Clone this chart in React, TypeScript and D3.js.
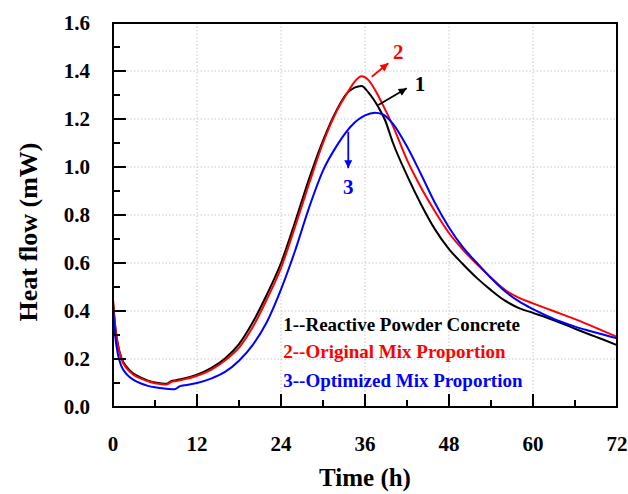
import React from 'react';
import * as d3 from 'd3';

const W = 628, H = 494;
const PL = 113, PT = 23, PR = 617, PB = 407;

const xTicks = [0, 12, 24, 36, 48, 60, 72];
const xMinor = [6, 18, 30, 42, 54, 66];
const yTicks = [0, 0.2, 0.4, 0.6, 0.8, 1.0, 1.2, 1.4, 1.6];
const yMinor = [0.1, 0.3, 0.5, 0.7, 0.9, 1.1, 1.3, 1.5];

// Series 1 - Reactive Powder Concrete (black)
const t1 = [0, 0.3, 0.7, 1.2, 2, 3, 4, 5, 6, 7, 7.7, 8.3, 9, 10, 12, 14, 16, 18, 20, 22, 24, 26, 28, 30, 32, 33.5, 35.5, 36.5, 38, 38.8, 40, 42, 44, 46, 48, 50, 52, 54, 56, 58, 60, 62, 64, 66, 68, 70, 72];
const v1 = [0.44, 0.34, 0.26, 0.205, 0.165, 0.138, 0.122, 0.11, 0.102, 0.098, 0.097, 0.108, 0.112, 0.118, 0.135, 0.162, 0.202, 0.262, 0.355, 0.47, 0.6, 0.77, 0.95, 1.11, 1.24, 1.31, 1.338, 1.31, 1.245, 1.2, 1.1, 0.965, 0.845, 0.74, 0.658, 0.595, 0.537, 0.487, 0.443, 0.412, 0.392, 0.372, 0.35, 0.326, 0.303, 0.281, 0.258];

// Series 2 - Original Mix Proportion (red)
const t2 = [0, 0.3, 0.7, 1.2, 2, 3, 4, 5, 6, 7, 7.7, 8.3, 9, 10, 12, 14, 16, 18, 20, 22, 24, 26, 28, 30, 32, 33.5, 34.5, 35.5, 36.5, 37.5, 38.5, 40, 42, 44, 46, 48, 50, 52, 54, 56, 58, 60, 62, 64, 66, 68, 70, 72];
const v2 = [0.45, 0.34, 0.26, 0.2, 0.16, 0.133, 0.118, 0.107, 0.099, 0.095, 0.094, 0.104, 0.108, 0.114, 0.13, 0.155, 0.194, 0.247, 0.335, 0.45, 0.58, 0.75, 0.93, 1.1, 1.235, 1.31, 1.355, 1.378, 1.362, 1.318, 1.262, 1.17, 1.03, 0.915, 0.815, 0.725, 0.655, 0.595, 0.54, 0.488, 0.455, 0.432, 0.41, 0.388, 0.366, 0.342, 0.317, 0.292];

// Series 3 - Optimized Mix Proportion (blue)
const t3 = [0, 0.3, 0.7, 1.2, 2, 3, 4, 5, 6, 7, 8, 8.8, 9.5, 10.5, 12, 14, 16, 18, 20, 22, 24, 26, 28, 30, 32, 34, 36, 37.4, 38.5, 40, 42, 44, 46, 48, 50, 52, 54, 56, 58, 60, 62, 64, 66, 68, 70, 72];
const v3 = [0.42, 0.3, 0.22, 0.17, 0.135, 0.112, 0.098, 0.088, 0.082, 0.078, 0.075, 0.074, 0.086, 0.092, 0.1, 0.118, 0.146, 0.193, 0.26, 0.355, 0.49, 0.65, 0.83, 0.985, 1.09, 1.17, 1.215, 1.226, 1.22, 1.18, 1.085, 0.97, 0.85, 0.748, 0.665, 0.6, 0.537, 0.482, 0.44, 0.408, 0.38, 0.355, 0.335, 0.318, 0.302, 0.286];

const seriesColors = ['#000000', '#ff0000', '#0000ff'];
const legendLabels = ['1--Reactive Powder Concrete', '2--Original Mix Proportion', '3--Optimized Mix Proportion'];
const legendX = 24.33;
const legendY = [0.318, 0.203, 0.082];

// annotations: arrow start (t,v), arrow end (t,v), label position (t,v)
const annoLabels = ['1', '2', '3'];
const annoFrom = [[37.9, 1.258], [36.96, 1.376], [33.61, 1.147]];
const annoTo = [[41.96, 1.328], [39.33, 1.432], [33.61, 0.995]];
const annoText = [[43.86, 1.349], [40.76, 1.48], [33.61, 0.918]];

const FONT = '"Liberation Serif", "Times New Roman", serif';

export default function App() {
  const x = d3.scaleLinear().domain([0, 72]).range([PL, PR]);
  const y = d3.scaleLinear().domain([0, 1.6]).range([PB, PT]);
  const line = d3.line<[number, number]>().x(d => x(d[0])).y(d => y(d[1])).curve(d3.curveMonotoneX);
  const series = [
    t1.map((t, i) => [t, v1[i]] as [number, number]),
    t2.map((t, i) => [t, v2[i]] as [number, number]),
    t3.map((t, i) => [t, v3[i]] as [number, number]),
  ];
  return (
    <svg width={W} height={H} style={{ position: 'absolute', left: 0, top: 0, background: '#fff' }} fontFamily={FONT}>
      <defs>
        {seriesColors.map((c, i) => (
          <marker key={i} id={`ah${i}`} viewBox="0 0 10 10" refX="10" refY="5" markerWidth="10" markerHeight="8" markerUnits="userSpaceOnUse" orient="auto">
            <path d="M0,0 L10,5 L0,10 z" fill={c} />
          </marker>
        ))}
      </defs>
      <rect x={0} y={0} width={W} height={H} fill="#fff" />
      {/* grid */}
      {xTicks.slice(1, -1).map(t => (
        <line key={'gx' + t} x1={x(t)} x2={x(t)} y1={PT} y2={PB} stroke="#c8c8c8" strokeWidth={1} strokeDasharray="1.5,2" />
      ))}
      {yTicks.slice(1, -1).map(v => (
        <line key={'gy' + v} x1={PL} x2={PR} y1={y(v)} y2={y(v)} stroke="#c8c8c8" strokeWidth={1} strokeDasharray="1.5,2" />
      ))}
      {/* curves */}
      {series.map((s, i) => (
        <path key={'s' + i} d={line(s) || ''} fill="none" stroke={seriesColors[i]} strokeWidth={2} strokeLinejoin="round" />
      ))}
      {/* frame */}
      <rect x={PL} y={PT} width={PR - PL} height={PB - PT} fill="none" stroke="#000" strokeWidth={2} />
      {/* ticks */}
      {xTicks.map(t => (
        <line key={'tx' + t} x1={x(t)} x2={x(t)} y1={PB} y2={PB - 13} stroke="#000" strokeWidth={2} />
      ))}
      {xMinor.map(t => (
        <line key={'mx' + t} x1={x(t)} x2={x(t)} y1={PB} y2={PB - 7} stroke="#000" strokeWidth={2} />
      ))}
      {yTicks.map(v => (
        <line key={'ty' + v} x1={PL} x2={PL + 13} y1={y(v)} y2={y(v)} stroke="#000" strokeWidth={2} />
      ))}
      {yMinor.map(v => (
        <line key={'my' + v} x1={PL} x2={PL + 7} y1={y(v)} y2={y(v)} stroke="#000" strokeWidth={2} />
      ))}
      {/* tick labels */}
      {xTicks.map(t => (
        <text key={'lx' + t} x={x(t)} y={451} textAnchor="middle" fontSize={21} fontWeight="bold">{t}</text>
      ))}
      {yTicks.map(v => (
        <text key={'ly' + v} x={90} y={y(v)} dy="0.35em" textAnchor="end" fontSize={21} fontWeight="bold">{d3.format('.1f')(v)}</text>
      ))}
      {/* axis titles */}
      <text x={(PL + PR) / 2} y={486} textAnchor="middle" fontSize={25} fontWeight="bold">Time (h)</text>
      <text transform={`translate(37,232) rotate(-90)`} textAnchor="middle" fontSize={26} fontWeight="bold">Heat flow (mW)</text>
      {/* legend */}
      {legendLabels.map((l, i) => (
        <text key={'lg' + i} x={x(legendX)} y={y(legendY[i])} fontSize={19} fontWeight="bold" fill={seriesColors[i]}>{l}</text>
      ))}
      {/* annotations */}
      {annoLabels.map((l, i) => (
        <g key={'an' + i}>
          <line x1={x(annoFrom[i][0])} y1={y(annoFrom[i][1])} x2={x(annoTo[i][0])} y2={y(annoTo[i][1])} stroke={seriesColors[i]} strokeWidth={1.8} markerEnd={`url(#ah${i})`} />
          <text x={x(annoText[i][0])} y={y(annoText[i][1])} dy="0.35em" textAnchor="middle" fontSize={21} fontWeight="bold" fill={seriesColors[i]}>{l}</text>
        </g>
      ))}
    </svg>
  );
}
